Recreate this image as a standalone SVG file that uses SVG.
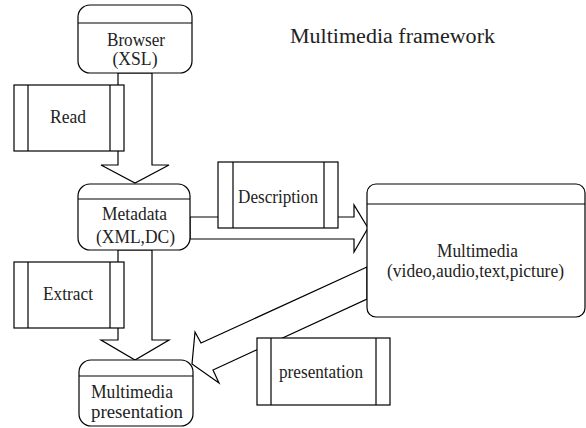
<svg xmlns="http://www.w3.org/2000/svg" width="586" height="428" viewBox="0 0 586 428">
<style>
.n{fill:#fff;stroke:#000;stroke-width:1.2}
.ln{fill:none;stroke:#000;stroke-width:1.2}
.ar{fill:#fff;stroke:#000;stroke-width:1.2;stroke-linejoin:miter}
text{font-family:'Liberation Serif','Times New Roman',serif;fill:#222}
.t{font-size:18px;text-anchor:middle}
.tt{font-size:20px}
</style>
<rect width="586" height="428" fill="#fff"/>
<g id="connectors">
<polygon class="ar" points="118,73 152,73 152,165 169,165 135,183 101,165 118,165"/>
<polygon class="ar" points="118,250 152,250 152,340 169,340 135,360 101,340 118,340"/>
<polygon class="ar" points="190,217 354,217 354,205 368,228 354,252 354,239 190,239"/>
<polygon class="ar" points="367,267 201,343 195,332 192,364 219,383 213,370 367,299"/>
</g>
<g id="browser">
<rect class="n" x="78" y="5" width="114" height="68" rx="12"/>
<line class="ln" x1="78" y1="23" x2="192" y2="23"/>
<text class="t" x="136" y="46" textLength="58" lengthAdjust="spacingAndGlyphs">Browser</text>
<text class="t" x="135" y="65" textLength="45" lengthAdjust="spacingAndGlyphs">(XSL)</text>
</g>
<g id="read">
<rect class="n" x="14" y="85" width="110" height="66"/>
<line class="ln" x1="28" y1="85" x2="28" y2="151"/>
<line class="ln" x1="110" y1="85" x2="110" y2="151"/>
<text class="t" x="68" y="123" textLength="36" lengthAdjust="spacingAndGlyphs">Read</text>
</g>
<g id="metadata">
<rect class="n" x="78" y="184" width="112" height="66" rx="12"/>
<line class="ln" x1="78" y1="199" x2="190" y2="199"/>
<text class="t" x="134.5" y="220" textLength="65" lengthAdjust="spacingAndGlyphs">Metadata</text>
<text class="t" x="135.5" y="243" textLength="79" lengthAdjust="spacingAndGlyphs">(XML,DC)</text>
</g>
<g id="description">
<rect class="n" x="218" y="162" width="120" height="66"/>
<line class="ln" x1="233" y1="162" x2="233" y2="228"/>
<line class="ln" x1="324" y1="162" x2="324" y2="228"/>
<text class="t" x="278" y="203" textLength="80" lengthAdjust="spacingAndGlyphs">Description</text>
</g>
<g id="multimedia">
<rect class="n" x="367" y="184" width="218" height="133" rx="9"/>
<line class="ln" x1="367" y1="204" x2="585" y2="204"/>
<text class="t" x="477.5" y="257" textLength="81" lengthAdjust="spacingAndGlyphs">Multimedia</text>
<text class="t" x="475.5" y="277" textLength="177" lengthAdjust="spacingAndGlyphs">(video,audio,text,picture)</text>
</g>
<g id="extract">
<rect class="n" x="14" y="262" width="110" height="66"/>
<line class="ln" x1="28" y1="262" x2="28" y2="328"/>
<line class="ln" x1="110" y1="262" x2="110" y2="328"/>
<text class="t" x="68" y="300" textLength="50" lengthAdjust="spacingAndGlyphs">Extract</text>
</g>
<g id="mpresentation">
<rect class="n" x="79" y="360" width="114" height="66" rx="12"/>
<line class="ln" x1="79" y1="376" x2="193" y2="376"/>
<text class="t" x="132" y="398" textLength="82" lengthAdjust="spacingAndGlyphs">Multimedia</text>
<text class="t" x="137" y="418" textLength="92" lengthAdjust="spacingAndGlyphs">presentation</text>
</g>
<g id="presentation">
<rect class="n" x="257" y="338" width="133" height="67"/>
<line class="ln" x1="271" y1="338" x2="271" y2="405"/>
<line class="ln" x1="376" y1="338" x2="376" y2="405"/>
<text class="t" x="321" y="378" textLength="84" lengthAdjust="spacingAndGlyphs">presentation</text>
</g>
<g id="title">
<text class="tt" x="290" y="43" textLength="205" lengthAdjust="spacingAndGlyphs">Multimedia framework</text>
</g>
</svg>
